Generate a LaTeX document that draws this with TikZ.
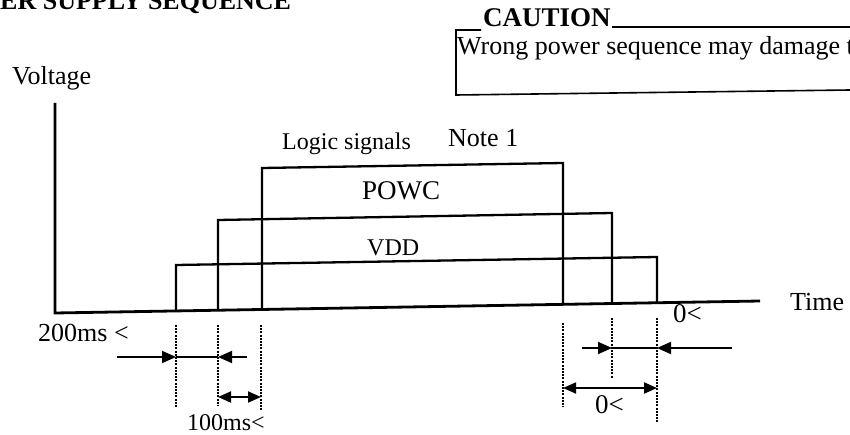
\documentclass[tikz,border=0pt]{standalone}
\usepackage{fontspec}
\setmainfont{Liberation Serif}
\usetikzlibrary{arrows.meta}
\begin{document}
\begin{tikzpicture}[x=1pt,y=-1pt,
  lbl/.style={inner sep=0pt, anchor=base west, font=\fontsize{26}{30}\selectfont},
  axisline/.style={line width=2.8pt, line join=miter},
  boxline/.style={line width=2.3pt, line join=miter},
  frameline/.style={line width=1.6pt},
  guide/.style={line width=2.6pt, dash pattern=on 2pt off 1.2pt},
  dimline/.style={line width=1.8pt},
  tip/.style={-{Triangle[length=14pt,width=12pt]}},
  dtip/.style={{Triangle[length=13pt,width=11pt]}-{Triangle[length=13pt,width=11pt]}}]
\useasboundingbox (0,0) rectangle (850,435);

% title (cut at the top edge)
\node[lbl, font=\fontsize{26}{30}\selectfont\bfseries] (title) at (0,10) {ER SUPPLY SEQUENCE};

% caution frame
\node[lbl, font=\fontsize{27}{30}\selectfont\bfseries] (caution) at (483,27) {CAUTION};
\node[lbl] (warn) at (457,55) {Wrong power sequence may damage t};
\coordinate (cTL) at (456,30);
\coordinate (cBL) at (456,95);
\coordinate (cBR) at (850,90);
\coordinate (cTR) at (850,27);
\draw[frameline] (caution.base west) ++(-2,3) -- (cTL) -- (cBL) -- (cBR);
\draw[frameline] (caution.base east) ++(1,0) -- (cTR);

% axes
\node[lbl] (volt) at (12,85) {Voltage};
\node[lbl] (time) at (790,310) {Time};
\coordinate (yTop) at (55,103);
\coordinate (O) at (55,313);
\coordinate (xEnd) at (760,301);
\draw[axisline] (yTop) -- (O) -- (xEnd);

% supply levels
\draw[boxline] (176,311.0) -- (176,265) -- (657,257) -- (657,302.8);
\draw[boxline] (218,310.2) -- (218,220) -- (612,213) -- (612,303.5);
\draw[boxline] (262,309.5) -- (262,168) -- (563,163) -- (563,304.4);

\node[lbl, font=\fontsize{24}{28}\selectfont] (logic) at (282,150) {Logic signals};
\node[lbl] (note) at (448,147) {Note 1};
\node[lbl, font=\fontsize{27}{30}\selectfont] (powc) at (362,200) {POWC};
\node[lbl, font=\fontsize{24}{28}\selectfont] (vdd) at (367,256) {VDD};

% dotted guides (left)
\coordinate (g1t) at (176,325); \coordinate (g1b) at (176,408);
\coordinate (g2t) at (218,325); \coordinate (g2b) at (218,406);
\coordinate (g3t) at (261,325); \coordinate (g3b) at (261,410);
\draw[guide] (g1t) -- (g1b);
\draw[guide] (g2t) -- (g2b);
\draw[guide] (g3t) -- (g3b);

% dotted guides (right)
\coordinate (g4t) at (563,323); \coordinate (g4b) at (563,407);
\coordinate (g5t) at (612,318); \coordinate (g5b) at (612,378);
\coordinate (g6t) at (657,318); \coordinate (g6b) at (657,422);
\draw[guide] (g4t) -- (g4b);
\draw[guide] (g5t) -- (g5b);
\draw[guide] (g6t) -- (g6b);

% left dimension arrows
\coordinate (a1s) at (117,357); \coordinate (a1t) at (176,357);
\coordinate (a2s) at (247,357); \coordinate (a2t) at (218,357);
\draw[dimline, tip] (a1s) -- (a1t);
\draw[dimline] (a1t) -- (a2t);
\draw[dimline, tip] (a2s) -- (a2t);
\coordinate (b1) at (218,397); \coordinate (b2) at (261,397);
\draw[dimline, dtip] (b1) -- (b2);
\node[lbl] (t200) at (38,341) {200ms <};
\node[lbl, font=\fontsize{24}{28}\selectfont] (t100) at (187,430) {100ms<};

% right dimension arrows
\coordinate (c1s) at (582,348); \coordinate (c1t) at (612,348);
\coordinate (c2s) at (732,348); \coordinate (c2t) at (657,348);
\draw[dimline, tip] (c1s) -- (c1t);
\draw[dimline] (c1t) -- (c2t);
\draw[dimline, tip] (c2s) -- (c2t);
\coordinate (d1) at (563,388); \coordinate (d2) at (657,388);
\draw[dimline, dtip] (d1) -- (d2);
\node[lbl, font=\fontsize{27}{30}\selectfont] (z1) at (673,322) {0<};
\node[lbl, font=\fontsize{27}{30}\selectfont] (z2) at (595,413) {0<};
\end{tikzpicture}
\end{document}
